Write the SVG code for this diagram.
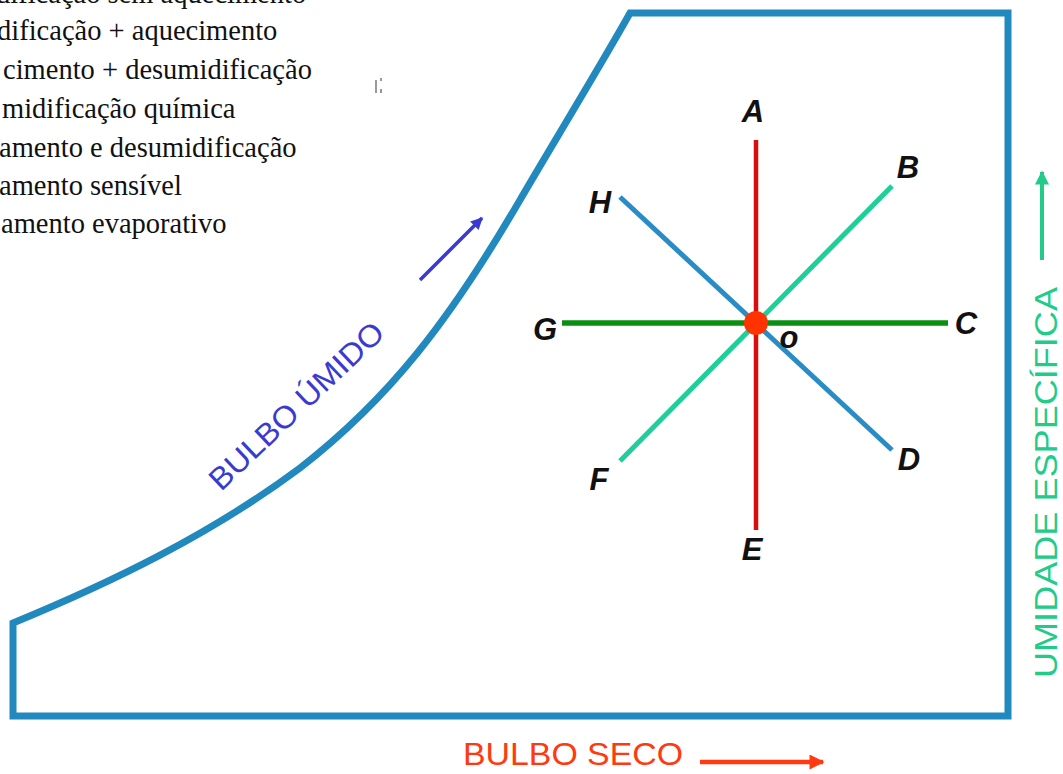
<svg xmlns="http://www.w3.org/2000/svg" width="1063" height="774" viewBox="0 0 1063 774">
<style>
.list{font-family:"Liberation Serif","Times New Roman",serif;font-size:28.5px;fill:#111}
.lbl{font-family:"Liberation Sans",Arial,sans-serif;font-size:31px;font-weight:bold;font-style:italic;fill:#111;text-anchor:middle}
.ax{font-family:"Liberation Sans",Arial,sans-serif}
.frame{fill:none;stroke:#2189bd;stroke-width:7;stroke-linejoin:miter}
.ln{fill:none;stroke-linecap:butt}
</style>
<defs>
<marker id="mBlue" viewBox="0 0 10 10" refX="9" refY="5" markerWidth="14" markerHeight="12" markerUnits="userSpaceOnUse" orient="auto"><path d="M0,0 L10,5 L0,10 Z" fill="#3a3ad0"/></marker>
<marker id="mGreen" viewBox="0 0 10 10" refX="9" refY="5" markerWidth="17" markerHeight="14" markerUnits="userSpaceOnUse" orient="auto"><path d="M0,0 L10,5 L0,10 Z" fill="#22cc88"/></marker>
<marker id="mRed" viewBox="0 0 10 10" refX="9" refY="5" markerWidth="19" markerHeight="15" markerUnits="userSpaceOnUse" orient="auto"><path d="M0,0 L10,5 L0,10 Z" fill="#ff3a10"/></marker>
</defs>
<rect width="1063" height="774" fill="#fff"/>

<g id="legend-list">
<text class="list" x="-4" y="3">dificação sem aquecimento</text>
<text class="list" x="-3" y="40">dificação + aquecimento</text>
<text class="list" x="3" y="79">cimento + desumidificação</text>
<text class="list" x="2" y="118">midificação química</text>
<text class="list" x="-1" y="157">amento e desumidificação</text>
<text class="list" x="-1" y="195">amento sensível</text>
<text class="list" x="1" y="233">amento evaporativo</text>
</g>

<g id="artifact" fill="#9a9a9a">
<rect x="375" y="80" width="2" height="13"/>
<rect x="380" y="78" width="2" height="3"/>
<rect x="380" y="89" width="2" height="4"/>
</g>

<g id="frame">
<path class="frame" d="M13,623 C110,583 210,535 300,468 C390,398 450,320 520,200 C545,157 605,58 630,13 L1008,13 L1008,716 L13,716 Z"/>
</g>

<g id="connectors">
<line class="ln" x1="620" y1="197" x2="892" y2="450" stroke="#2a8cc4" stroke-width="5"/>
<line class="ln" x1="892" y1="186" x2="620" y2="461" stroke="#1ecf99" stroke-width="5"/>
<line class="ln" x1="756" y1="140" x2="756" y2="530" stroke="#d80d0d" stroke-width="4.5"/>
<line class="ln" x1="562" y1="323" x2="948" y2="323" stroke="#0b8f12" stroke-width="5.5"/>
</g>

<g id="node-O">
<circle cx="756" cy="323" r="12" fill="#ff3300"/>
<text class="lbl" x="789" y="348">o</text>
</g>
<g id="node-A"><text class="lbl" x="753" y="122">A</text></g>
<g id="node-B"><text class="lbl" x="908" y="178">B</text></g>
<g id="node-C"><text class="lbl" x="966" y="334">C</text></g>
<g id="node-D"><text class="lbl" x="909" y="470">D</text></g>
<g id="node-E"><text class="lbl" x="752" y="560">E</text></g>
<g id="node-F"><text class="lbl" x="599" y="490">F</text></g>
<g id="node-G"><text class="lbl" x="545" y="340">G</text></g>
<g id="node-H"><text class="lbl" x="600" y="213">H</text></g>

<g id="axis-wet-bulb">
<text class="ax" transform="translate(221,492) rotate(-43.5)" font-size="31" fill="#3a3ad0" textLength="228" lengthAdjust="spacingAndGlyphs">BULBO ÚMIDO</text>
<line x1="420" y1="280" x2="482" y2="218" stroke="#3a3ad0" stroke-width="3.5" marker-end="url(#mBlue)"/>
</g>

<g id="axis-humidity">
<text class="ax" transform="translate(1057,678) rotate(-90)" font-size="32" fill="#22cc88" textLength="391" lengthAdjust="spacingAndGlyphs">UMIDADE ESPECÍFICA</text>
<line x1="1042" y1="260" x2="1042" y2="172" stroke="#22cc88" stroke-width="4" marker-end="url(#mGreen)"/>
</g>

<g id="axis-dry-bulb">
<text class="ax" x="463" y="765" font-size="31" fill="#ff3a10" textLength="220" lengthAdjust="spacingAndGlyphs">BULBO SECO</text>
<line x1="700" y1="762" x2="823" y2="762" stroke="#ff3a10" stroke-width="4.5" marker-end="url(#mRed)"/>
</g>
</svg>
